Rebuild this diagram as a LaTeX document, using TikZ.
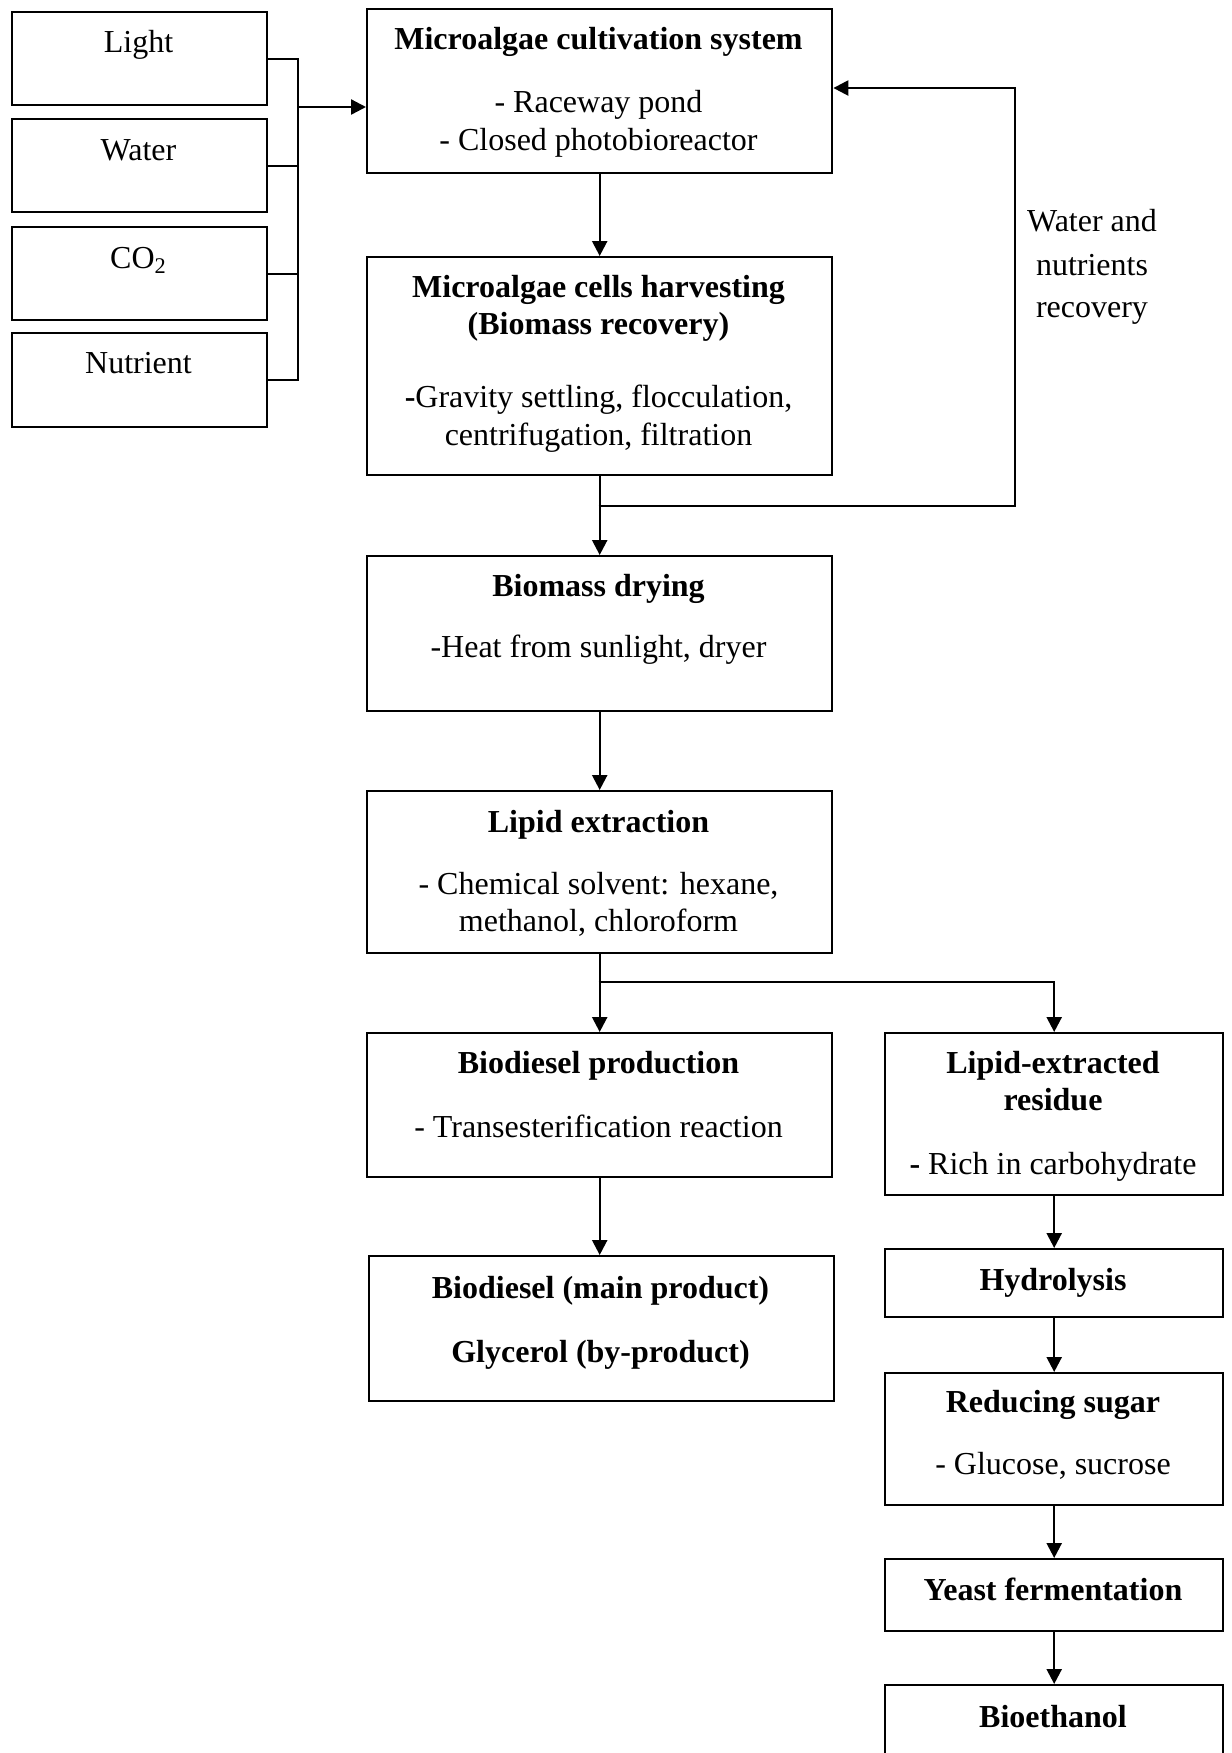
\documentclass[tikz,border=0pt]{standalone}
\usepackage{fontspec}
\setmainfont{Liberation Serif}
\usetikzlibrary{arrows.meta}
\begin{document}
\begin{tikzpicture}[x=0.5pt,y=-0.5pt,
  box/.style={draw, line width=1.2pt, inner sep=0pt, anchor=north west},
  txt/.style={anchor=base, inner sep=0pt, font=\fontsize{16}{19}\selectfont},
  bt/.style={anchor=base, inner sep=0pt, font=\fontsize{16}{19}\selectfont\bfseries},
  arr/.style={line width=1.2pt, -{Triangle[length=7.5pt,width=7.5pt]}},
  ln/.style={line width=1.2pt}]
\useasboundingbox (0,0) rectangle (1232,1753);
\clip (0,0) rectangle (1232,1753);
% input boxes
\node[box, minimum width=127.5pt, minimum height=46.5pt] (light) at (11,11) {};
\node[box, minimum width=127.5pt, minimum height=46.5pt] (water) at (11,118) {};
\node[box, minimum width=127.5pt, minimum height=46.5pt] (co2) at (11,226) {};
\node[box, minimum width=127.5pt, minimum height=47pt] (nutr) at (11,332) {};
\node[txt] (tlight) at (138.5,52) {Light};
\node[txt] (twater) at (138.5,160) {Water};
\node[txt] (tco2) at (138.5,268) {CO\textsubscript{2}};
\node[txt] (tnutr) at (138.5,373) {Nutrient};
% main column
\node[box, minimum width=232.5pt, minimum height=82pt] (main) at (366,8) {};
\node[bt] (tm1) at (598.5,49) {Microalgae cultivation system};
\node[txt] (tm2) at (598.5,112) {- Raceway pond};
\node[txt] (tm3) at (598.5,150) {- Closed photobioreactor};
\node[box, minimum width=232.5pt, minimum height=109pt] (harv) at (366,256) {};
\node[bt] (th1) at (598.5,297) {Microalgae cells harvesting};
\node[bt] (th2) at (598.5,334) {(Biomass recovery)};
\node[txt] (th3) at (598.5,407) {{\bfseries -}Gravity settling, flocculation,};
\node[txt] (th4) at (598.5,445) {centrifugation, filtration};
\node[box, minimum width=232.5pt, minimum height=77.5pt] (dry) at (366,555) {};
\node[bt] (td1) at (598.5,596) {Biomass drying};
\node[txt] (td2) at (598.5,657) {-Heat from sunlight, dryer};
\node[box, minimum width=232.5pt, minimum height=81pt] (lipid) at (366,790) {};
\node[bt] (tl1) at (598.5,832) {Lipid extraction};
\node[txt] (tl2) at (598.5,894) {- Chemical solvent: hexane,};
\node[txt] (tl3) at (598.5,931) {methanol, chloroform};
\node[box, minimum width=232.5pt, minimum height=72pt] (biod) at (366,1032) {};
\node[bt] (tb1) at (598.5,1073) {Biodiesel production};
\node[txt] (tb2) at (598.5,1137) {- Transesterification reaction};
\node[box, minimum width=232.5pt, minimum height=72.5pt] (prod) at (368,1255) {};
\node[bt] (tp1) at (600.5,1298) {Biodiesel (main product)};
\node[bt] (tp2) at (600.5,1362) {Glycerol (by-product)};
% right column
\node[box, minimum width=169pt, minimum height=81pt] (resid) at (884,1032) {};
\node[bt] (tr1) at (1053,1073) {Lipid-extracted};
\node[bt] (tr2) at (1053,1110) {residue};
\node[txt] (tr3) at (1053,1174) {{\bfseries -} Rich in carbohydrate};
\node[box, minimum width=169pt, minimum height=34pt] (hydro) at (884,1248) {};
\node[bt] (ty1) at (1053,1290) {Hydrolysis};
\node[box, minimum width=169pt, minimum height=66pt] (sugar) at (884,1372) {};
\node[bt] (ts1) at (1053,1412) {Reducing sugar};
\node[txt] (ts2) at (1053,1474) {- Glucose, sucrose};
\node[box, minimum width=169pt, minimum height=36pt] (yeast) at (884,1558) {};
\node[bt] (tf1) at (1053,1600) {Yeast fermentation};
\node[box, minimum width=169pt, minimum height=40pt] (eth) at (884,1684) {};
\node[bt] (te1) at (1053,1727) {Bioethanol};
% feedback label
\node[txt] (w1) at (1092,231) {Water and};
\node[txt] (w2) at (1092,275) {nutrients};
\node[txt] (w3) at (1092,317) {recovery};
% connectors
\coordinate (bj) at (298,107);
\draw[ln] (light.east) -| (bj);
\draw[ln] (water.east) -| (bj);
\draw[ln] (co2.east) -| (bj);
\draw[ln] (nutr.east) -| (bj);
\draw[arr] (bj) -- (bj -| main.west);
\draw[arr] (main.south) -- (harv.north);
\draw[arr] (harv.south) -- (dry.north);
\coordinate (fbj) at (598.5,506);
\coordinate (fbr) at (1015,506);
\coordinate (y88) at (0,88);
\draw[arr] (fbj) -- (fbr) |- (main.east |- y88);
\draw[arr] (dry.south) -- (lipid.north);
\coordinate (sp) at (598.5,982);
\draw[arr] (lipid.south) -- (biod.north);
\draw[arr] (sp) -| (resid.north);
\draw[arr] (biod.south) -- (biod.south |- prod.north);
\draw[arr] (resid.south) -- (hydro.north);
\draw[arr] (hydro.south) -- (sugar.north);
\draw[arr] (sugar.south) -- (yeast.north);
\draw[arr] (yeast.south) -- (eth.north);
\end{tikzpicture}
\end{document}
